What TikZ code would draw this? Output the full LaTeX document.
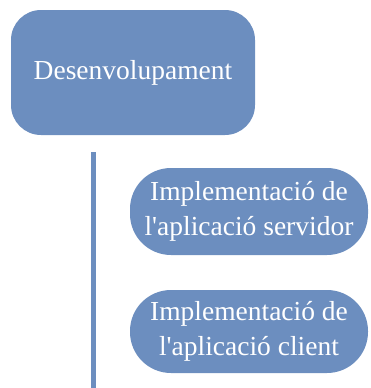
\documentclass[tikz,border=0pt]{standalone}
\usepackage{fontspec}
\setmainfont{Liberation Serif}
\definecolor{boxblue}{RGB}{108,142,191}
\begin{document}
\begin{tikzpicture}[x=1pt,y=1pt,
  topbox/.style={fill=boxblue, draw=none, rounded corners=30pt, minimum width=244pt, minimum height=125pt, text=white, font=\fontsize{27.5}{33}\selectfont, inner sep=0pt},
  subbox/.style={fill=boxblue, draw=none, rounded corners=41pt, minimum width=238pt, text=white, align=center, font=\fontsize{27.5}{34.5}\selectfont, inner sep=0pt}]
\useasboundingbox (0,0) rectangle (370,-388);
\node[topbox] (top) at (133,-72.5) {Desenvolupament};
\node[subbox, minimum height=87pt] (s1) at (249,-211.5) {Implementació de\\l\textquotesingle aplicació servidor};
\node[subbox, minimum height=83pt] (s2) at (249,-331.5) {Implementació de\\l\textquotesingle aplicació client};
\coordinate (barTop) at (91,-152);
\coordinate (barBot) at (96,-388);
\fill[boxblue] (barTop) rectangle (barBot);
\end{tikzpicture}
\end{document}
